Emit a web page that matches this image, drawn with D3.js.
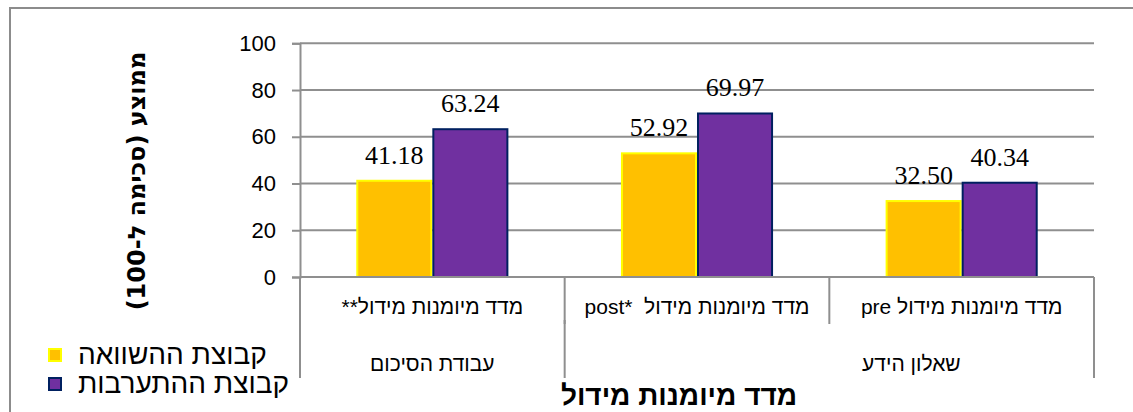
<!DOCTYPE html>
<html lang="he">
<head>
<meta charset="utf-8">
<script src="https://cdn.jsdelivr.net/npm/d3@7"></script>
<style>
  html, body { margin: 0; padding: 0; background: #fff; }
  svg { display: block; }
</style>
</head>
<body>
<svg id="chart" width="1133" height="412"></svg>
<script>
// categories, left to right as drawn
const categories = ['summary', 'post', 'pre'];
const categoryLabels = ['מדד מיומנות מידול**', 'מדד מיומנות מידול  *post', 'מדד מיומנות מידול pre'];
const groupLabels = ['עבודת הסיכום', 'שאלון הידע'];
const groupSpans = [['summary', 'summary'], ['post', 'pre']];

const seriesNames = ['קבוצת ההשוואה', 'קבוצת ההתערבות'];
const comparisonValues = [41.18, 52.92, 32.50];
const interventionValues = [63.24, 69.97, 40.34];
const yTicks = [0, 20, 40, 60, 80, 100];

const FILL = ['#ffc000', '#7030a0'];
const EDGE = ['#ffff00', '#002060'];
const GRID = '#8f8f8f';
const SANS = 'Liberation Sans, Arial, sans-serif';

const svg = d3.select('#chart');

const plot = { left: 300, right: 1094, top: 43.3, bottom: 277 };

const x0 = d3.scaleBand()
  .domain(categories)
  .range([plot.left, plot.right])
  .paddingInner(0)
  .paddingOuter(0);

const x1 = d3.scaleBand()
  .domain([0, 1])
  .range([0, x0.bandwidth()])
  .paddingInner(0)
  .paddingOuter(0.74);

const y = d3.scaleLinear()
  .domain([0, 100])
  .range([plot.bottom, plot.top]);

// outer frame
svg.append('rect')
  .attr('x', 10).attr('y', 8)
  .attr('width', 1140).attr('height', 420)
  .attr('fill', 'none')
  .attr('stroke', '#8c8c8c')
  .attr('stroke-width', 2);

// gridlines + y axis
const yAxis = d3.axisLeft(y)
  .tickValues(yTicks)
  .tickSize(8)
  .tickPadding(16)
  .tickFormat(d3.format('d'));

const gy = svg.append('g')
  .attr('transform', `translate(${plot.left},0)`)
  .call(yAxis);
gy.select('.domain').attr('stroke', GRID).attr('stroke-width', 2);
gy.selectAll('.tick line').attr('stroke', GRID).attr('stroke-width', 2);
gy.selectAll('.tick text')
  .attr('font-family', SANS)
  .attr('font-size', 22)
  .attr('fill', '#000');

svg.append('g')
  .selectAll('line')
  .data(yTicks.filter(t => t > 0))
  .join('line')
  .attr('x1', plot.left)
  .attr('x2', plot.right)
  .attr('y1', d => y(d))
  .attr('y2', d => y(d))
  .attr('stroke', GRID)
  .attr('stroke-width', 2);

// bars
const rows = categories.map((c, i) => ({ cat: c, values: [comparisonValues[i], interventionValues[i]] }));

const catG = svg.append('g')
  .selectAll('g')
  .data(rows)
  .join('g')
  .attr('transform', d => `translate(${x0(d.cat)},0)`);

catG.selectAll('rect')
  .data(d => d.values.map((v, s) => ({ v, s })))
  .join('rect')
  .attr('x', d => x1(d.s) + 1)
  .attr('y', d => y(d.v))
  .attr('width', x1.bandwidth() - 2)
  .attr('height', d => y(0) - y(d.v))
  .attr('fill', d => FILL[d.s])
  .attr('stroke', d => EDGE[d.s])
  .attr('stroke-width', 2);

catG.selectAll('text.value')
  .data(d => d.values.map((v, s) => ({ v, s })))
  .join('text')
  .attr('class', 'value')
  .attr('x', d => x1(d.s) + x1.bandwidth() / 2)
  .attr('y', d => y(d.v) - 17)
  .attr('text-anchor', 'middle')
  .attr('font-family', 'Liberation Serif, Times New Roman, serif')
  .attr('font-size', 26)
  .attr('fill', '#000')
  .text(d => d.v.toFixed(2));

// x axis line (baseline) and category separators
svg.append('line')
  .attr('x1', plot.left).attr('x2', plot.right)
  .attr('y1', y(0)).attr('y2', y(0))
  .attr('stroke', GRID).attr('stroke-width', 2);

const catEdges = categories.map(c => x0(c)).concat([plot.right]);
svg.append('g')
  .selectAll('line')
  .data(catEdges)
  .join('line')
  .attr('x1', d => d).attr('x2', d => d)
  .attr('y1', y(0)).attr('y2', 324)
  .attr('stroke', GRID).attr('stroke-width', 2);

const groupEdges = [x0(groupSpans[0][0]), x0(groupSpans[1][0]), plot.right];
svg.append('g')
  .selectAll('line')
  .data(groupEdges)
  .join('line')
  .attr('x1', d => d).attr('x2', d => d)
  .attr('y1', 320).attr('y2', 378)
  .attr('stroke', GRID).attr('stroke-width', 2);

svg.append('g')
  .selectAll('text')
  .data(categories)
  .join('text')
  .attr('x', d => x0(d) + x0.bandwidth() / 2)
  .attr('y', 314)
  .attr('text-anchor', 'middle')
  .attr('direction', 'rtl')
  .style('white-space', 'pre')
  .attr('font-family', SANS)
  .attr('font-size', 21)
  .attr('fill', '#000')
  .text((d, i) => categoryLabels[i]);

// second level labels (Excel put the right-hand one off centre)
const groupCentres = [
  x0(groupSpans[0][0]) + x0.bandwidth() / 2,
  x0(groupSpans[1][1]) + x0.bandwidth() * 0.31
];
svg.append('g')
  .selectAll('text')
  .data(groupLabels)
  .join('text')
  .attr('x', (d, i) => groupCentres[i])
  .attr('y', 371)
  .attr('text-anchor', 'middle')
  .attr('direction', 'rtl')
  .attr('font-family', SANS)
  .attr('font-size', 21)
  .attr('fill', '#000')
  .text(d => d);

// axis titles
svg.append('text')
  .attr('x', 679)
  .attr('y', 405)
  .attr('text-anchor', 'middle')
  .attr('direction', 'rtl')
  .attr('font-family', SANS)
  .attr('font-weight', 'bold')
  .attr('font-size', 28)
  .attr('fill', '#000')
  .text('מדד מיומנות מידול');

svg.append('text')
  .attr('transform', 'translate(145,181) rotate(-90)')
  .attr('text-anchor', 'middle')
  .attr('direction', 'rtl')
  .attr('font-family', 'DejaVu Sans, sans-serif')
  .attr('font-weight', 'bold')
  .attr('font-size', 24)
  .attr('fill', '#000')
  .text('ממוצע (סכימה ל-100)');

// legend
const legend = svg.append('g')
  .selectAll('g')
  .data(seriesNames)
  .join('g')
  .attr('transform', (d, i) => `translate(48,${348 + i * 29})`);

legend.append('rect')
  .attr('x', 1).attr('y', 1)
  .attr('width', 12).attr('height', 12)
  .attr('fill', (d, i) => FILL[i])
  .attr('stroke', (d, i) => EDGE[i])
  .attr('stroke-width', 2);

legend.append('text')
  .attr('x', 30)
  .attr('y', 16)
  .attr('font-family', SANS)
  .attr('font-size', 28)
  .attr('fill', '#000')
  .text(d => d);
</script>
</body>
</html>
